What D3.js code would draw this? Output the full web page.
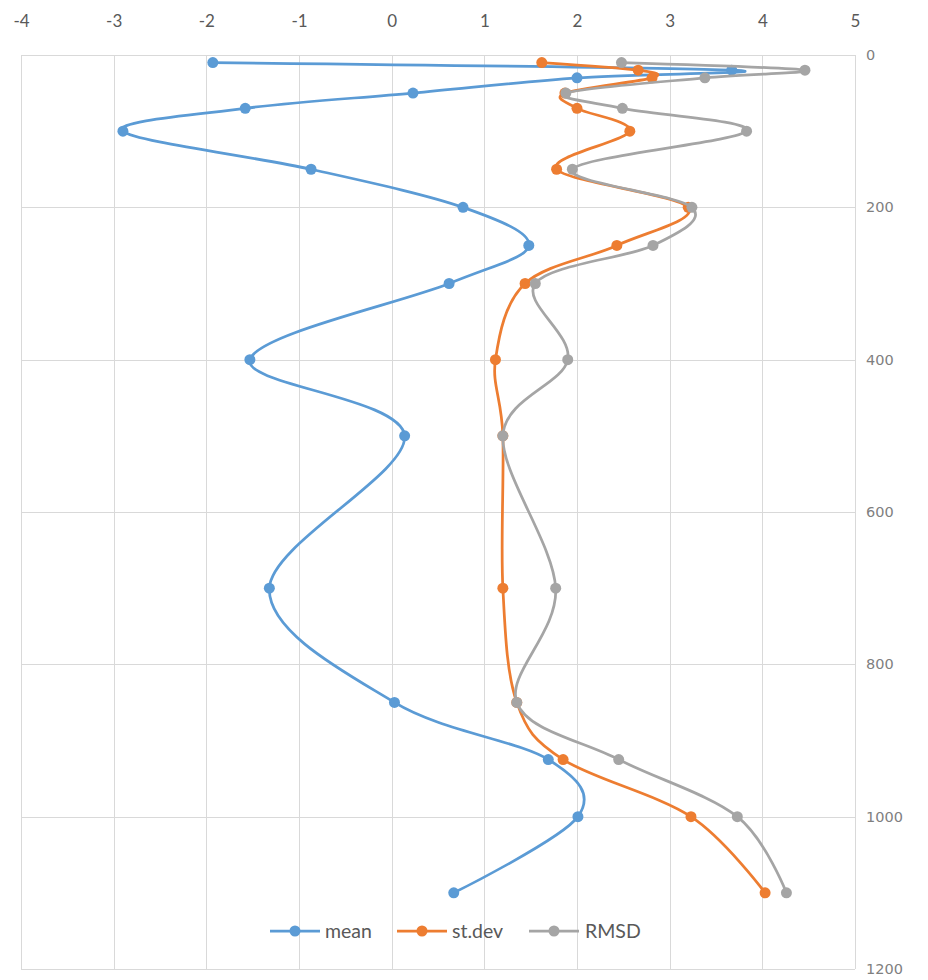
<!DOCTYPE html>
<html>
<head>
<meta charset="utf-8">
<script src="https://cdn.jsdelivr.net/npm/d3@7"></script>
<style>
  html, body { margin: 0; padding: 0; background: #ffffff; }
  svg { display: block; }
</style>
</head>
<body>
<svg id="chart" width="928" height="980"></svg>
<script>
// Vertical profile: pressure levels down the right axis, statistics across the top.
const levels = [10, 20, 30, 50, 70, 100, 150, 200, 250, 300, 400, 500, 700, 850, 925, 1000, 1100];
const meanValues  = [-1.93, 3.67, 2.00, 0.23, -1.58, -2.90, -0.87, 0.77, 1.48, 0.62, -1.53, 0.14, -1.32, 0.03, 1.69, 2.01, 0.67];
const stdevValues = [1.62, 2.66, 2.81, 1.87, 2.00, 2.57, 1.78, 3.20, 2.43, 1.44, 1.12, 1.20, 1.20, 1.35, 1.85, 3.23, 4.03];
const rmsdValues  = [2.48, 4.46, 3.38, 1.88, 2.49, 3.83, 1.95, 3.24, 2.82, 1.55, 1.90, 1.20, 1.77, 1.35, 2.45, 3.73, 4.26];
const seriesNames = ["mean", "st.dev", "RMSD"];
const xTicks = [-4, -3, -2, -1, 0, 1, 2, 3, 4, 5];
const yTicks = [0, 200, 400, 600, 800, 1000, 1200];

const colors = ["#5B9BD5", "#ED7D31", "#A5A5A5"];
const series = [meanValues, stdevValues, rmsdValues].map((vals, i) => ({
  name: seriesNames[i],
  color: colors[i],
  points: levels.map((lev, j) => ({ level: lev, value: vals[j] }))
}));

const svg = d3.select("#chart");
const plot = { left: 21, right: 855, top: 55, bottom: 969 };

const x = d3.scaleLinear().domain([-4, 5]).range([plot.left, plot.right]);
const y = d3.scaleLinear().domain([0, 1200]).range([plot.top, plot.bottom]);

// Gridlines (the outer ones double as the plot frame)
const grid = svg.append("g").attr("stroke", "#D9D9D9").attr("stroke-width", 1);
grid.selectAll("line.v").data(xTicks).join("line")
  .attr("x1", d => Math.round(x(d)) + 0.5).attr("x2", d => Math.round(x(d)) + 0.5)
  .attr("y1", plot.top).attr("y2", plot.bottom);
grid.selectAll("line.h").data(yTicks).join("line")
  .attr("y1", d => Math.round(y(d)) + 0.5).attr("y2", d => Math.round(y(d)) + 0.5)
  .attr("x1", plot.left).attr("x2", plot.right);

// Top axis labels (plain hyphen for negatives)
const xAxis = d3.axisTop(x).tickValues(xTicks).tickSize(0).tickPadding(0).tickFormat(d => String(d));
const gx = svg.append("g").attr("transform", `translate(0, 27)`).call(xAxis);
gx.select(".domain").remove();
gx.selectAll("text")
  .attr("fill", "#595959")
  .attr("font-family", "Lato, 'Open Sans', sans-serif")
  .attr("font-size", 17)
  .attr("dy", 0);

// Right axis labels
const yAxis = d3.axisRight(y).tickValues(yTicks).tickSize(0).tickPadding(0).tickFormat(d => String(d));
const gy = svg.append("g").attr("transform", `translate(866, 0)`).call(yAxis);
gy.select(".domain").remove();
gy.selectAll("text")
  .attr("fill", "#7F7F7F")
  .attr("font-family", "'DejaVu Sans', sans-serif")
  .attr("font-size", 14.5)
  .attr("text-anchor", "start");

// Smoothed profile lines with markers
const line = d3.line()
  .x(d => x(d.value))
  .y(d => y(d.level))
  .curve(d3.curveCardinal.tension(0));

series.forEach(s => {
  const g = svg.append("g");
  g.append("path")
    .attr("d", line(s.points))
    .attr("fill", "none")
    .attr("stroke", s.color)
    .attr("stroke-width", 2.75)
    .attr("stroke-linejoin", "round")
    .attr("stroke-linecap", "round");
  g.selectAll("circle").data(s.points).join("circle")
    .attr("cx", d => x(d.value))
    .attr("cy", d => y(d.level))
    .attr("r", 5.5)
    .attr("fill", s.color);
});

// Legend
const legendItems = [
  { lineX: 270, textX: 325 },
  { lineX: 397, textX: 452 },
  { lineX: 529, textX: 585 }
];
const legendY = 931;
const legend = svg.append("g");
series.forEach((s, i) => {
  const it = legendItems[i];
  legend.append("line")
    .attr("x1", it.lineX).attr("x2", it.lineX + 50)
    .attr("y1", legendY).attr("y2", legendY)
    .attr("stroke", s.color).attr("stroke-width", 2.75);
  legend.append("circle")
    .attr("cx", it.lineX + 25).attr("cy", legendY).attr("r", 5.5)
    .attr("fill", s.color);
  legend.append("text")
    .attr("x", it.textX).attr("y", legendY)
    .attr("dy", "0.35em")
    .attr("fill", "#595959")
    .attr("font-family", "Lato, 'Open Sans', sans-serif")
    .attr("font-size", 19.5)
    .text(s.name);
});
</script>
</body>
</html>
